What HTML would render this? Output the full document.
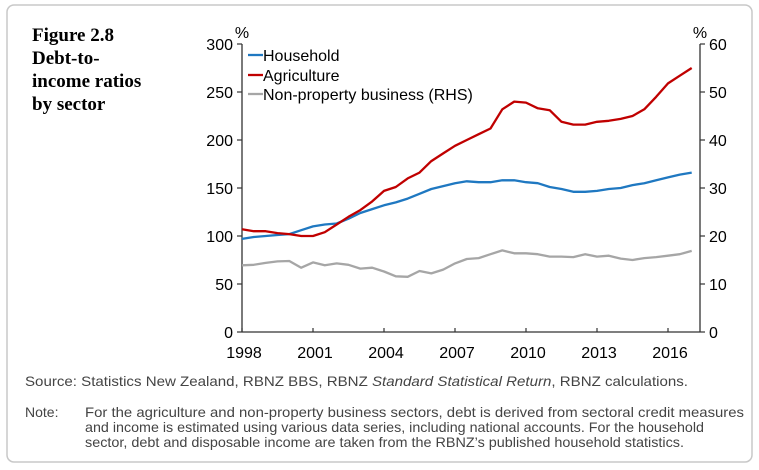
<!DOCTYPE html>
<html><head><meta charset="utf-8">
<style>
html,body{margin:0;padding:0;background:#fff;}
svg{display:block;}
</style></head>
<body>
<svg id="chart" width="759" height="470" viewBox="0 0 759 470" xmlns="http://www.w3.org/2000/svg" font-family="Liberation Sans, Arial, sans-serif">
<rect x="7" y="5" width="745" height="457" rx="7" fill="#fff" stroke="#c8c8c8" stroke-width="1.5"/>
<g style="font-family:'Liberation Serif',serif;font-weight:bold;font-size:19px" fill="#000">
<text x="32" y="41">Figure 2.8</text>
<text x="32" y="64">Debt-to-</text>
<text x="32" y="87">income ratios</text>
<text x="32" y="110">by sector</text>
</g>
<g id="axes"></g>
<g id="series"></g>
<g style="font-size:14px" fill="#444">
<text x="25" y="386" textLength="663" lengthAdjust="spacingAndGlyphs">Source:  Statistics New Zealand, RBNZ BBS, RBNZ <tspan font-style="italic">Standard Statistical Return</tspan>, RBNZ calculations.</text>
<text x="25" y="417" style="font-size:14px">Note:</text>
<text x="85" y="417" textLength="659" lengthAdjust="spacingAndGlyphs">For the agriculture and non-property business sectors, debt is derived from sectoral credit measures</text>
<text x="85" y="432" textLength="619" lengthAdjust="spacingAndGlyphs">and income is estimated using various data series, including national accounts. For the household</text>
<text x="85" y="447" textLength="599" lengthAdjust="spacingAndGlyphs">sector, debt and disposable income are taken from the RBNZ’s published household statistics.</text>
</g>
</svg>
<script>
const startYear = 1998;
const stepYears = 0.5;
const household = [97,99,100,101,102,106,110,112,113,118,124,128,132,135,139,144,149,152,155,157,156,156,158,158,156,155,151,149,146,146,147,149,150,153,155,158,161,164,166];
const agriculture = [107,105,105,103,102,100,100,104,112,120,127,136,147,151,160,166,178,186,194,200,206,212,232,240,239,233,231,219,216,216,219,220,222,225,232,245,259,267,275];
const nonProperty = [13.9,14,14.4,14.7,14.8,13.4,14.5,13.9,14.3,14,13.2,13.4,12.6,11.6,11.5,12.7,12.2,13,14.3,15.2,15.4,16.2,17,16.4,16.4,16.2,15.7,15.7,15.6,16.2,15.7,15.9,15.3,15,15.4,15.6,15.9,16.2,16.9];
const xTickYears = [1998,2001,2004,2007,2010,2013,2016];
const leftTicks = [0,50,100,150,200,250,300];
const rightTicks = [0,10,20,30,40,50,60];

const NS='http://www.w3.org/2000/svg';
const X0=242, X1=700, YT=44, YB=332;
const pxPerYear=(313-242)/3;
const x=yr=>X0+(yr-1998)*pxPerYear;
const yL=v=>YB-(v/300)*(YB-YT);
const yR=v=>YB-(v/60)*(YB-YT);
function mk(tag,attrs,parent){const e=document.createElementNS(NS,tag);for(const k in attrs)e.setAttribute(k,attrs[k]);parent.appendChild(e);return e;}
const axes=document.getElementById('axes');
const ser=document.getElementById('series');

let e=mk('line',{x1:X0,y1:YT,x2:X0,y2:YB,stroke:'#333','stroke-width':1.3},axes);


e=mk('line',{x1:X1,y1:YT,x2:X1,y2:YB,stroke:'#333','stroke-width':1.3},axes);


e=mk('line',{x1:X0,y1:YB,x2:X1,y2:YB,stroke:'#333','stroke-width':1.3},axes);



leftTicks.forEach(v=>{
  mk('line',{x1:X0-5,y1:yL(v),x2:X0,y2:yL(v),stroke:'#333','stroke-width':1.2},axes);
  const t=mk('text',{x:X0-9,y:yL(v)+6,'text-anchor':'end','font-size':16,fill:'#000'},axes);
  t.textContent=v;
  
  
});
rightTicks.forEach(v=>{
  mk('line',{x1:X1,y1:yR(v),x2:X1+5,y2:yR(v),stroke:'#333','stroke-width':1.2},axes);
  const t=mk('text',{x:X1+9,y:yR(v)+6,'text-anchor':'start','font-size':16,fill:'#000'},axes);
  t.textContent=v;
  
  
});
xTickYears.forEach(yr=>{
  mk('line',{x1:x(yr),y1:YB,x2:x(yr),y2:YB-4,stroke:'#333','stroke-width':1.2},axes);
  const t=mk('text',{x:x(yr)+2,y:YB+26,'text-anchor':'middle','font-size':16,fill:'#000'},axes);
  t.textContent=yr;
  
  
});
e=mk('text',{x:X0,y:YT-6,'text-anchor':'middle','font-size':16},axes);e.textContent='%';


e=mk('text',{x:X1,y:YT-6,'text-anchor':'middle','font-size':16},axes);e.textContent='%';



function line(data,yf,color,name){
  const d=data.map((v,i)=>(i?'L':'M')+x(startYear+i*stepYears).toFixed(1)+','+yf(v).toFixed(1)).join('');
  const p=mk('path',{d:d,fill:'none',stroke:color,'stroke-width':2.3,'stroke-linejoin':'round'},ser);
  
  
}
line(nonProperty,yR,'#a6a6a6','non-property-line');
line(household,yL,'#1f78c1','household-line');
line(agriculture,yL,'#c00000','agriculture-line');

const legend=[['Household','#1f78c1',55],['Agriculture','#c00000',75],['Non-property business (RHS)','#a6a6a6',94]];
legend.forEach(([lab,col,yy])=>{
  const g=mk('g',{},ser);
  
  
  mk('line',{x1:248,y1:yy,x2:263,y2:yy,stroke:col,'stroke-width':2.3},g);
  const t=mk('text',{x:263,y:yy+6,'font-size':16,fill:'#000'},g);
  t.textContent=lab;
});
</script>
</body></html>
